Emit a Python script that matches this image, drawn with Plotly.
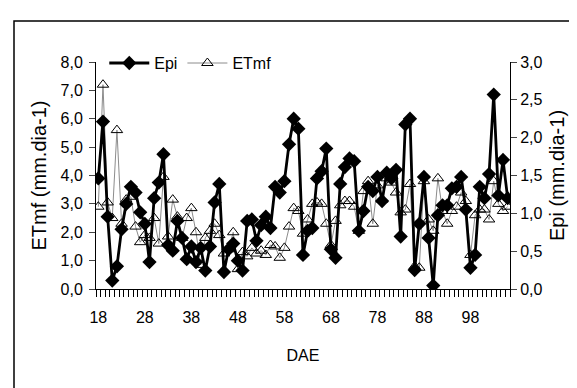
import plotly.graph_objects as go

days = list(range(18, 107))
tick_days = [18, 28, 38, 48, 58, 68, 78, 88, 98]
tick_labels = [str(d) for d in tick_days]

# Epi read on left-axis scale (0-8 axis), converted to right axis (0-3)
epi_left_scale = [3.9, 5.9, 2.55, 0.3, 0.8, 2.1, 3.0, 3.6, 3.4, 2.7,
                  2.3, 0.95, 3.2, 3.75, 4.75, 1.55, 1.35, 2.4, 1.8, 1.05,
                  1.5, 0.95, 1.45, 0.65, 1.5, 3.05, 3.7, 0.6, 1.4, 1.6,
                  1.0, 0.65, 2.4, 2.45, 1.7, 2.25, 2.55, 2.15, 3.6, 3.4,
                  3.8, 5.1, 6.0, 5.65, 1.2, 2.05, 2.15, 3.9, 4.15, 4.95,
                  1.4, 1.1, 3.7, 4.3, 4.6, 4.5, 2.05, 2.75, 3.6, 3.45,
                  3.95, 3.1, 4.1, 3.9, 4.2, 1.85, 5.8, 6.0, 0.67, 2.3,
                  3.95, 1.8, 0.12, 2.6, 2.95, 2.95, 3.55, 3.6, 3.95, 2.8,
                  0.75, 1.2, 3.6, 3.2, 4.05, 6.85, 3.3, 4.55, 3.2]
epi = [round(v * 3 / 8, 3) for v in epi_left_scale]

etmf = [2.9, 7.2, 3.05, 2.5, 5.6, 2.3, 3.15, 3.25, 2.2, 1.65,
        1.9, 1.8, 2.5, 1.6, 3.95, 1.85, 3.15, 2.55, 1.8, 2.5,
        2.85, 2.0, 0.85, 1.8, 2.05, 2.3, 1.9, 1.25, 1.4, 2.0,
        0.7, 1.3, 1.15, 1.45, 1.25, 1.35, 1.2, 1.55, 1.5, 1.1,
        1.45, 2.2, 2.85, 2.75, 1.95, 2.45, 3.0, 3.05, 3.0, 2.3,
        1.55, 2.4, 2.95, 3.1, 3.1, 2.9, 2.05, 3.45, 3.8, 2.3,
        3.65, 3.15, 3.9, 3.75, 3.4, 2.7, 2.8, 3.7, 0.8, 0.75,
        3.8, 2.45, 2.05, 3.9, 2.75, 2.3, 2.75, 2.9, 3.4, 3.1,
        1.2, 2.6, 2.8, 2.8, 2.45, 3.8, 3.0, 2.75, 2.9]

FONT = "Liberation Sans, Arial, sans-serif"

fig = go.Figure()
fig.add_trace(go.Scatter(
    x=days, y=epi, name="Epi", yaxis="y2", mode="lines+markers",
    line=dict(color="black", width=2.8),
    marker=dict(symbol="diamond", size=11, color="black"),
))
fig.add_trace(go.Scatter(
    x=days, y=etmf, name="ETmf", yaxis="y", mode="lines+markers",
    line=dict(color="#8c8c8c", width=1),
    marker=dict(symbol="triangle-up-open", size=10, color="black", line=dict(width=1)),
))

fig.update_layout(
    width=577, height=388,
    margin=dict(l=88, r=75, t=54, b=107),
    paper_bgcolor="white", plot_bgcolor="white",
    separators=",.",
    font=dict(family=FONT, size=16, color="black"),
    showlegend=True,
    legend=dict(orientation="h", x=0.02, y=1.07, xanchor="left", yanchor="top",
                bgcolor="rgba(0,0,0,0)", font=dict(size=16), itemwidth=40,
                traceorder="normal"),
    xaxis=dict(
        range=[17.5, 106.5], tickmode="array", tickvals=tick_days, ticktext=tick_labels,
        ticks="", showgrid=False, zeroline=False, ticklabelstandoff=14,
        showline=True, linecolor="black", linewidth=1,
        minor=dict(tickmode="linear", tick0=17.5, dtick=1, ticks="outside",
                   ticklen=7, tickcolor="black", showgrid=False),
        title=dict(text="DAE", font=dict(size=16), standoff=24),
        tickfont=dict(size=16),
    ),
    yaxis=dict(
        range=[0, 8], dtick=1, tickformat=".1f", ticks="outside", ticklen=6,
        ticklabelstandoff=3,
        showgrid=False, zeroline=False, showline=True, linecolor="black", linewidth=1,
        title=dict(text="ETmf (mm.dia-1)", font=dict(size=20), standoff=8),
        tickfont=dict(size=16),
    ),
    yaxis2=dict(
        range=[0, 3], dtick=0.5, tickformat=".1f", ticks="outside", ticklen=6,
        overlaying="y", side="right",
        showgrid=False, zeroline=False, showline=True, linecolor="black", linewidth=1,
        title=dict(text="Epi (mm.dia-1)", font=dict(size=20), standoff=8),
        tickfont=dict(size=16),
    ),
    yaxis3=dict(
        range=[0, 3], dtick=0.5, ticks="inside", ticklen=6, tickcolor="black",
        overlaying="y", side="right", showticklabels=False,
        showgrid=False, zeroline=False, showline=False,
    ),
    shapes=[dict(type="rect", xref="paper", yref="paper",
                 x0=(6 - 88) / 414, x1=(573 - 88) / 414,
                 y0=(281 - 390) / 227, y1=(281 - 13) / 227,
                 line=dict(color="black", width=1.5), fillcolor="rgba(0,0,0,0)",
                 layer="below")],
)

fig.write_html("out.html")
